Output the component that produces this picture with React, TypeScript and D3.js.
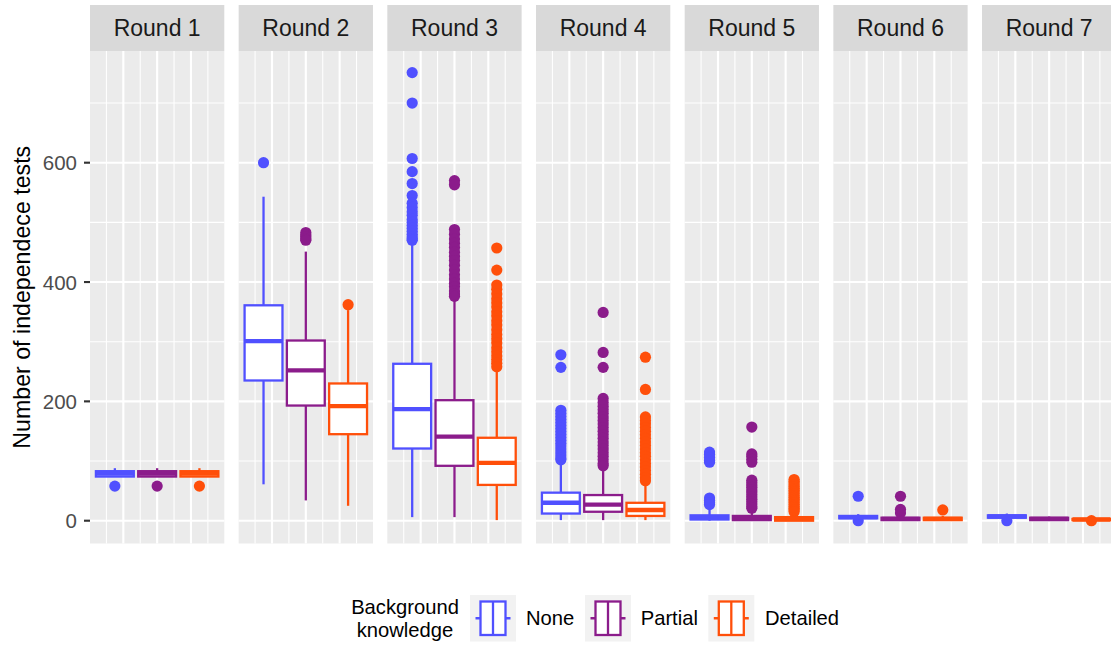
import React from 'react';
import * as d3 from 'd3';

const rounds = ['Round 1', 'Round 2', 'Round 3', 'Round 4', 'Round 5', 'Round 6', 'Round 7'];
const groups = ['None', 'Partial', 'Detailed'];
const groupColors = ['#5050FF', '#8B1C8B', '#FF4F0A'];

// box stats per round: [lowerWhisker, q1, median, q3, upperWhisker]
const noneBox = [
  [74, 74, 79, 83, 88],
  [61, 235, 301, 361, 543],
  [6, 121, 187, 263, 466],
  [1, 12, 30, 47, 98],
  [0, 2, 5, 9, 18],
  [2, 4, 6, 8, 11],
  [3, 5, 7, 9, 12],
];
const partialBox = [
  [74, 74, 79, 83, 88],
  [34, 193, 252, 302, 451],
  [6, 92, 141, 202, 370],
  [1, 15, 27, 43, 85],
  [0, 1, 4, 8, 16],
  [0, 1, 3, 5, 8],
  [0, 1, 3, 5, 7],
];
const detailedBox = [
  [74, 74, 79, 83, 88],
  [25, 145, 192, 230, 353],
  [1, 60, 97, 139, 252],
  [1, 8, 18, 30, 62],
  [0, 0, 3, 6, 13],
  [0, 1, 3, 5, 8],
  [1, 1, 2, 3, 5],
];

// outliers per round
const noneOutliers = [
  [58],
  [600],
  [751, 700, 607, 585, 565, 545, 532, 525, 518, 512, 505, 500, 495, 490, 485, 480, 476, 472, 470],
  [278, 257, 185, 180, 175, 170, 165, 160, 155, 150, 145, 140, 135, 130, 125, 120, 115, 110, 105, 102],
  [115, 111, 106, 101, 98, 38, 34, 30, 27],
  [41, 0],
  [0],
];
const partialOutliers = [
  [58],
  [483, 479, 476, 472, 470],
  [570, 563, 488, 480, 472, 465, 458, 450, 443, 436, 428, 420, 412, 405, 398, 392, 385, 380, 376],
  [349, 282, 257, 205, 198, 192, 186, 180, 174, 168, 162, 156, 150, 144, 138, 132, 126, 120, 114, 108, 102, 96, 92],
  [157, 112, 108, 103, 98, 68, 64, 60, 56, 52, 48, 44, 40, 36, 32, 28, 24, 21],
  [41, 19, 13],
  [],
];
const detailedOutliers = [
  [58],
  [362],
  [457, 420, 395, 388, 380, 372, 365, 358, 350, 343, 335, 328, 320, 312, 305, 298, 290, 283, 276, 270, 264, 258],
  [274, 220, 174, 168, 162, 156, 150, 144, 138, 132, 126, 120, 114, 108, 102, 96, 90, 84, 78, 72, 67],
  [69, 66, 63, 60, 57, 54, 51, 48, 45, 42, 39, 36, 33, 30, 27, 24, 21, 18, 15],
  [18],
  [0],
];

const yMajorTicks = [0, 200, 400, 600];
const yMinorTicks = [100, 300, 500, 700];
const xMajorGrid = [-2, 0, 2];
const xMinorGrid = [-3, -1, 1, 3];
const dodgeOffsets = [-2.5, 0, 2.5];

const boxes = [noneBox, partialBox, detailedBox];
const outliers = [noneOutliers, partialOutliers, detailedOutliers];

const FONT = '"Liberation Sans", Arial, Helvetica, sans-serif';

export default function App() {
  const W = 1111;
  const H = 646;
  const panelTop = 51;
  const panelBottom = 543.5;
  const stripTop = 5;

  const panelScale = d3
    .scaleBand<string>()
    .domain(rounds)
    .range([90, 1116.3])
    .paddingInner(0.0967)
    .paddingOuter(0);
  const bw = panelScale.bandwidth();

  const y = d3.scaleLinear().domain([-38.2, 787.2]).range([panelBottom, panelTop]);
  const x = d3.scaleLinear().domain([-3.97, 3.97]).range([0, bw]);
  const halfBox = 1.12;
  const sw = 2.3;

  const legendKeys = [470, 585, 708.3];
  const legendLabelX = [526, 640.7, 765];

  return (
    <svg
      width={W}
      height={H}
      style={{ position: 'absolute', left: 0, top: 0, background: '#fff' }}
      fontFamily={FONT}
    >
      <rect x={0} y={0} width={W} height={H} fill="#fff" />
      {rounds.map((r, ri) => {
        const px = panelScale(r)!;
        return (
          <g key={r} transform={`translate(${px},0)`}>
            <rect x={0} y={panelTop} width={bw} height={panelBottom - panelTop} fill="#EBEBEB" />
            {yMinorTicks.map((t) => (
              <line key={'hm' + t} x1={0} x2={bw} y1={y(t)} y2={y(t)} stroke="#fff" strokeWidth={1.07} />
            ))}
            {xMinorGrid.map((t) => (
              <line key={'vm' + t} x1={x(t)} x2={x(t)} y1={panelTop} y2={panelBottom} stroke="#fff" strokeWidth={1.07} />
            ))}
            {yMajorTicks.map((t) => (
              <line key={'hM' + t} x1={0} x2={bw} y1={y(t)} y2={y(t)} stroke="#fff" strokeWidth={2.13} />
            ))}
            {xMajorGrid.map((t) => (
              <line key={'vM' + t} x1={x(t)} x2={x(t)} y1={panelTop} y2={panelBottom} stroke="#fff" strokeWidth={2.13} />
            ))}
            <rect x={0} y={stripTop} width={bw} height={panelTop - stripTop} fill="#D9D9D9" />
            <text
              x={bw / 2}
              y={(stripTop + panelTop) / 2}
              textAnchor="middle"
              dominantBaseline="central"
              fontSize={23}
              fill="#1A1A1A"
            >
              {r}
            </text>
            {groups.map((g, gi) => {
              const [lo, q1, med, q3, hi] = boxes[gi][ri];
              const cx = x(dodgeOffsets[gi]);
              const x0 = x(dodgeOffsets[gi] - halfBox);
              const x1 = x(dodgeOffsets[gi] + halfBox);
              const col = groupColors[gi];
              return (
                <g key={g}>
                  {outliers[gi][ri].map((v, k) => (
                    <circle key={k} cx={cx} cy={y(v)} r={5.6} fill={col} />
                  ))}
                  <line x1={cx} x2={cx} y1={y(q3)} y2={y(hi)} stroke={col} strokeWidth={sw} />
                  <line x1={cx} x2={cx} y1={y(q1)} y2={y(lo)} stroke={col} strokeWidth={sw} />
                  <rect
                    x={x0}
                    y={y(q3)}
                    width={x1 - x0}
                    height={Math.max(0, y(q1) - y(q3))}
                    fill="#fff"
                    stroke={col}
                    strokeWidth={sw}
                  />
                  <line x1={x0} x2={x1} y1={y(med)} y2={y(med)} stroke={col} strokeWidth={sw * 1.9} />
                </g>
              );
            })}
          </g>
        );
      })}
      {/* y axis */}
      {yMajorTicks.map((t) => (
        <g key={'yt' + t}>
          <line x1={84} x2={90} y1={y(t)} y2={y(t)} stroke="#333" strokeWidth={2.13} />
          <text
            x={77}
            y={y(t)}
            textAnchor="end"
            dominantBaseline="central"
            fontSize={20.5}
            fill="#4D4D4D"
          >
            {t}
          </text>
        </g>
      ))}
      <text
        transform={`translate(30,${(panelTop + panelBottom) / 2}) rotate(-90)`}
        textAnchor="middle"
        fontSize={23.2}
        fill="#000"
      >
        Number of independece tests
      </text>
      {/* legend */}
      <text x={405} y={606.7} textAnchor="middle" dominantBaseline="central" fontSize={20.2} fill="#000">
        Background
      </text>
      <text x={405} y={630} textAnchor="middle" dominantBaseline="central" fontSize={20.2} fill="#000">
        knowledge
      </text>
      {groups.map((g, gi) => {
        const kx = legendKeys[gi];
        const col = groupColors[gi];
        const kw = 46;
        const ky = 595;
        const kh = 46.5;
        const cy = ky + kh / 2;
        return (
          <g key={'lg' + g}>
            <rect x={kx} y={ky} width={kw} height={kh} fill="#F2F2F2" />
            <line x1={kx + 5.5} x2={kx + kw - 5.5} y1={cy} y2={cy} stroke={col} strokeWidth={sw} />
            <rect x={kx + 10.5} y={ky + 6.5} width={kw - 21} height={kh - 13} fill="#fff" stroke={col} strokeWidth={sw} />
            <line x1={kx + kw / 2} x2={kx + kw / 2} y1={ky + 6.5} y2={ky + kh - 6.5} stroke={col} strokeWidth={sw} />
            <text x={legendLabelX[gi]} y={cy} dominantBaseline="central" fontSize={20.2} fill="#000">
              {g}
            </text>
          </g>
        );
      })}
    </svg>
  );
}
